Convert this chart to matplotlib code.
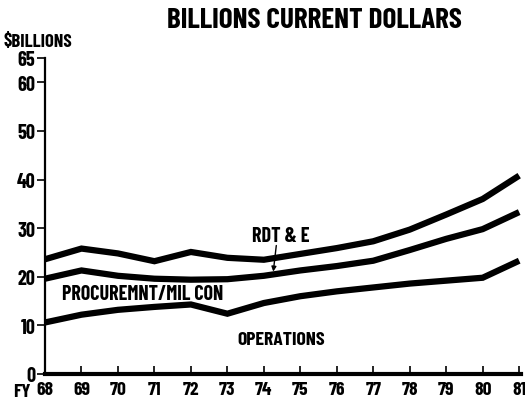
import numpy as np, matplotlib; matplotlib.use('Agg')
import matplotlib.pyplot as plt

years = [68, 69, 70, 71, 72, 73, 74, 75, 76, 77, 78, 79, 80, 81]
rdte = [23.6, 25.8, 24.8, 23.2, 25.1, 23.9, 23.5, 24.7, 25.9, 27.3, 29.7, 32.8, 36.0, 40.8]
procurement = [19.6, 21.3, 20.2, 19.6, 19.4, 19.5, 20.2, 21.3, 22.2, 23.3, 25.5, 27.8, 29.8, 33.3]
operations = [10.6, 12.2, 13.2, 13.8, 14.3, 12.4, 14.6, 16.0, 17.0, 17.8, 18.6, 19.2, 19.8, 23.3]
yticks = [0, 10, 20, 30, 40, 50, 60, 65]

plt.rcParams['font.family'] = ['Barlow Condensed', 'DejaVu Sans']
plt.rcParams['font.weight'] = 'bold'

fig = plt.figure(figsize=(5.25, 4.02), dpi=100)
ax = fig.add_axes([45/525, 27/402, 476/525, 316/402])

for s in (rdte, procurement, operations):
    ax.plot(years, s, color='black', lw=4.5, solid_capstyle='butt', solid_joinstyle='miter')

ax.set_xlim(68, 81.05); ax.set_ylim(0, 65)
for k in ('top', 'right'): ax.spines[k].set_visible(False)
ax.spines['left'].set_linewidth(1.6)
ax.spines['bottom'].set_linewidth(3.0)
ax.set_xticks(years)
ax.set_xticklabels([str(y) for y in years])
ax.set_yticks(yticks)
ax.tick_params(axis='x', direction='in', length=6, width=1.2, labelsize=14, pad=5)
ax.tick_params(axis='y', direction='out', length=6, width=1.2, labelsize=14.5, pad=1)

fig.text(13/525, 1 - 393/402, 'FY', fontsize=14, fontweight='bold', va='center', ha='left')
fig.text(314/525, 1 - 20/402, 'BILLIONS CURRENT DOLLARS', fontsize=21, fontweight='bold', ha='center', va='center')
fig.text(4/525, 1 - 43/402, '$BILLIONS', fontsize=13.4, fontweight='bold', ha='left', va='center')

ax.text(74.45, 28.4, 'RDT & E', fontsize=14.5, fontweight='bold', ha='center', va='center')
ax.annotate('', xy=(74.25, 20.5), xytext=(74.35, 27.0),
            arrowprops=dict(arrowstyle='-|>', color='black', lw=1.0, mutation_scale=7))
ax.text(68.47, 16.5, 'PROCUREMNT/MIL CON', fontsize=14.4, fontweight='bold', ha='left', va='center')
ax.text(73.27, 7.0, 'OPERATIONS', fontsize=14.2, fontweight='bold', ha='left', va='center')

plt.savefig('out.png', dpi=100)
